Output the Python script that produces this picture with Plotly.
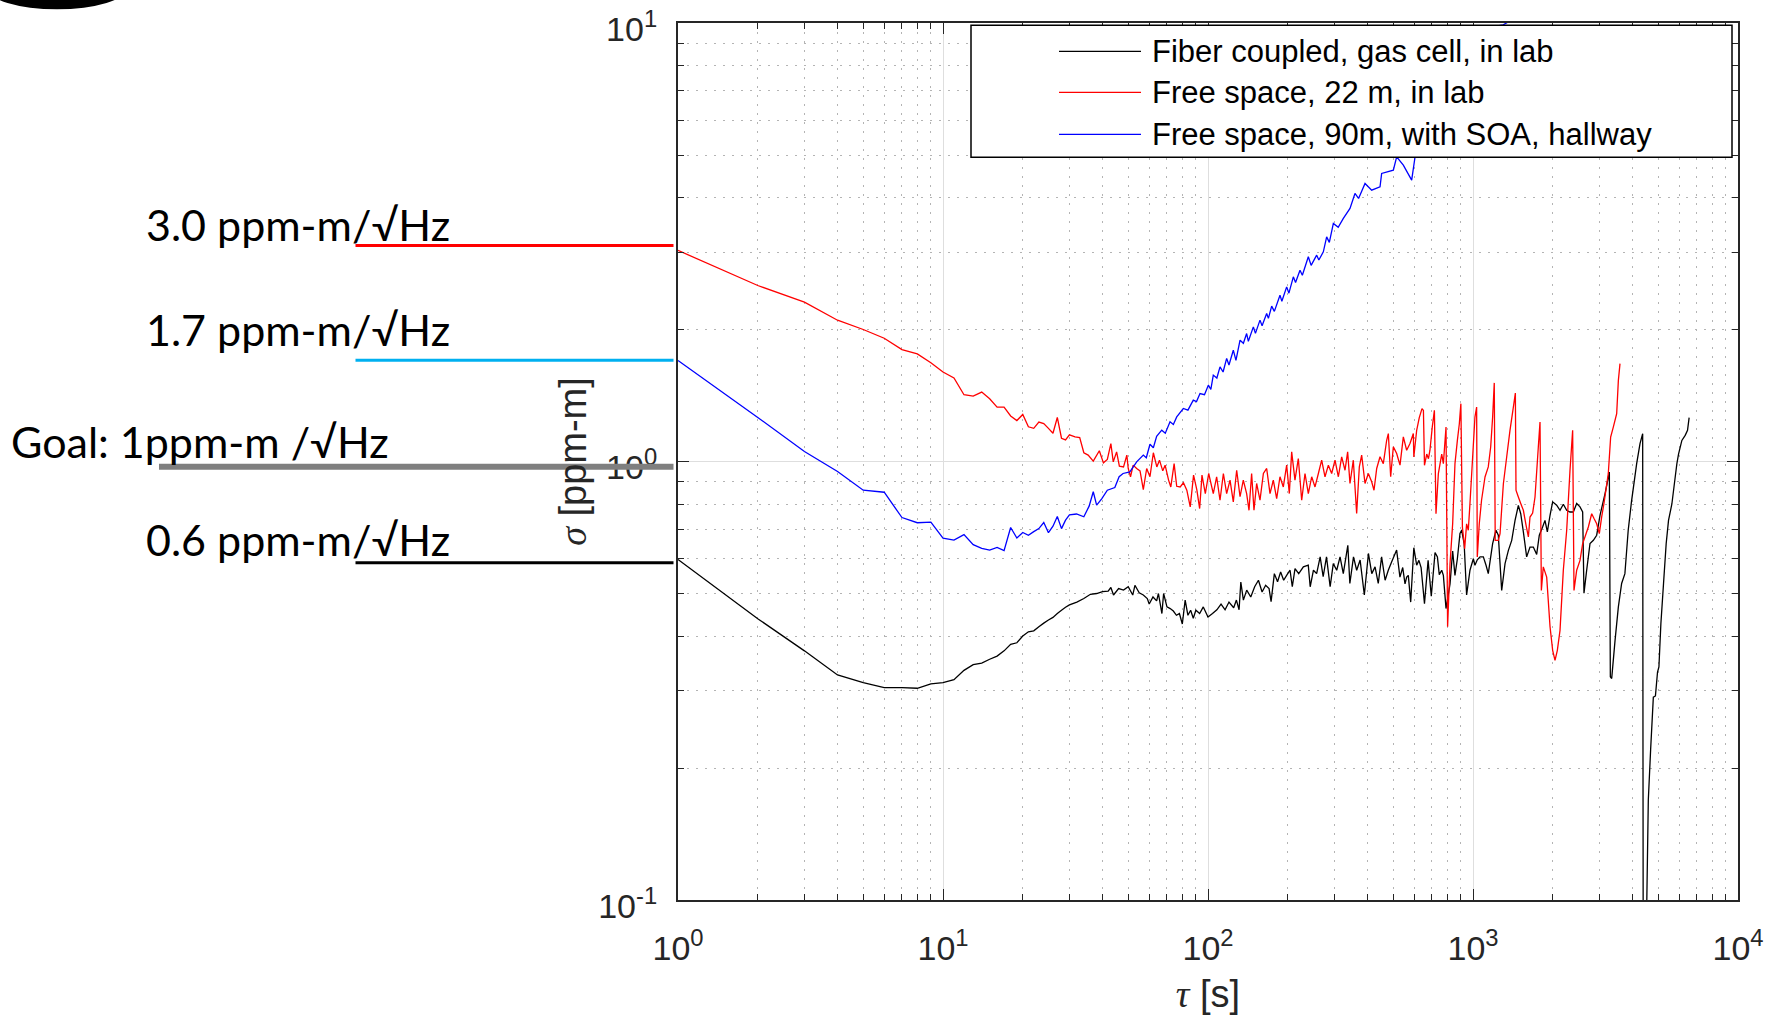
import plotly.graph_objects as go

# ---------------- data ----------------
# Fiber coupled, gas cell, in lab (black)
black_tau_a = list(range(1, 31))
black_sigma_a = [0.598, 0.438, 0.370, 0.326, 0.313, 0.305, 0.305, 0.304, 0.311, 0.313,
                 0.318, 0.334, 0.344, 0.347, 0.354, 0.360, 0.370, 0.383, 0.386, 0.400,
                 0.409, 0.411, 0.420, 0.428, 0.435, 0.441, 0.450, 0.458, 0.465, 0.471]
black_tau_b = [32, 34, 36, 38, 40, 42, 43, 44, 46, 48, 50, 52, 53, 55, 57, 59, 60, 62, 64, 65,
               67, 68, 70, 72, 74, 76, 78, 80, 82, 84, 86, 88, 90, 93, 96, 100, 104, 108, 112, 116,
               120, 125, 128, 131, 133, 136, 140, 145, 150, 155, 160, 165, 170, 173, 178, 183, 188,
               193, 198, 204, 208, 213, 220]
black_sigma_b = [0.478, 0.487, 0.498, 0.500, 0.505, 0.506, 0.516, 0.496, 0.513, 0.509,
                 0.518, 0.496, 0.522, 0.502, 0.496, 0.487, 0.473, 0.491, 0.481, 0.500,
                 0.450, 0.500, 0.466, 0.462, 0.456, 0.446, 0.450, 0.426, 0.483, 0.446,
                 0.458, 0.439, 0.458, 0.450, 0.466, 0.442, 0.450, 0.459, 0.473, 0.459,
                 0.478, 0.464, 0.483, 0.459, 0.531, 0.483, 0.509, 0.491, 0.518, 0.536,
                 0.504, 0.522, 0.513, 0.479, 0.555, 0.532, 0.560, 0.536, 0.550, 0.565,
                 0.518, 0.570, 0.555]
black_tau_c = [229, 239, 243, 250, 257, 265, 272, 280, 289, 297, 306, 315, 324, 337, 343, 354,
               364, 375, 389, 403, 415, 427, 439, 452, 466, 479, 493, 515]
black_sigma_c = [0.575, 0.580, 0.518, 0.565, 0.555, 0.606, 0.546, 0.606, 0.518, 0.585,
                 0.565, 0.606, 0.555, 0.644, 0.527, 0.606, 0.565, 0.596, 0.496, 0.617,
                 0.555, 0.575, 0.527, 0.606, 0.536, 0.565, 0.590, 0.628]
black_tau_d = [530, 543, 554, 562, 570, 582, 598, 613, 625, 637, 656, 677, 696, 719, 734, 746,
               762, 773, 791, 819, 838, 855, 873, 893, 906, 926, 946, 974, 1003, 1017, 1038,
               1063, 1094, 1120, 1142, 1186, 1221, 1246, 1283, 1321, 1360, 1400, 1441, 1483,
               1514, 1549, 1594, 1641, 1689, 1739, 1779, 1831, 1869, 1908, 1953, 1998, 2069,
               2130, 2192, 2257, 2323, 2391, 2462, 2534, 2593, 2623, 2685, 2764, 2846, 2929,
               3015, 3150, 3270, 3298, 3337, 3436, 3536, 3638, 3743, 3852, 3963, 4146, 4268,
               4368, 4395, 4587, 4680, 4792, 4880, 4970, 5030, 5117, 5236, 5358, 5468, 5630,
               5795, 5880, 5965, 6140, 6320, 6450, 6540]
black_sigma_d = [0.545, 0.573, 0.526, 0.545, 0.550, 0.478, 0.636, 0.580, 0.595, 0.573,
                 0.474, 0.595, 0.493, 0.620, 0.606, 0.552, 0.565, 0.550, 0.462, 0.526,
                 0.625, 0.550, 0.600, 0.685, 0.697, 0.650, 0.496, 0.565, 0.600, 0.580,
                 0.597, 0.606, 0.606, 0.580, 0.555, 0.650, 0.697, 0.679, 0.508, 0.585,
                 0.627, 0.661, 0.734, 0.794, 0.760, 0.691, 0.606, 0.638, 0.638, 0.614,
                 0.679, 0.709, 0.734, 0.691, 0.754, 0.809, 0.795, 0.774, 0.799, 0.774,
                 0.767, 0.767, 0.802, 0.788, 0.767, 0.501, 0.565, 0.650, 0.661, 0.679,
                 0.754, 0.845, 0.946, 0.323, 0.320, 0.391, 0.466, 0.527, 0.555, 0.697,
                 0.810, 0.989, 1.098, 1.157, 0.030, 0.169, 0.220, 0.290, 0.292, 0.331,
                 0.340, 0.427, 0.527, 0.650, 0.734, 0.800, 0.922, 0.989, 1.040, 1.117,
                 1.147, 1.178, 1.259]

# Free space, 22 m, in lab (red)
red_tau_a = list(range(1, 31))
red_sigma_a = [3.03, 2.52, 2.31, 2.10, 2.00, 1.91, 1.80, 1.76, 1.68, 1.60,
               1.55, 1.42, 1.41, 1.44, 1.39, 1.33, 1.33, 1.27, 1.24, 1.28,
               1.20, 1.19, 1.23, 1.22, 1.19, 1.16, 1.26, 1.13, 1.12, 1.15]
red_tau_b = [31.5, 32.8, 34.0, 35.3, 36.9, 38.9, 40.3, 41.7, 43.0, 43.9, 45.2, 46.3, 48.0, 49.4,
             50.0, 51.0, 52.2, 53.8, 55.4, 57.0, 58.7, 60.4, 62.2, 64.1, 65.6, 67.5, 68.9, 71.0,
             72.4, 74.5, 76.2, 78.5, 80.8, 83.2, 85.7, 88.2, 90.8, 93.0, 94.9, 97.7, 100.6]
red_sigma_b = [1.138, 1.134, 1.047, 1.034, 1.002, 1.058, 0.993, 1.011, 1.099, 0.998,
               1.052, 0.976, 0.972, 1.034, 0.964, 0.923, 0.981, 0.964, 0.952, 0.863,
               0.964, 0.923, 1.047, 0.972, 1.007, 0.952, 0.981, 0.907, 0.875, 0.989,
               0.878, 0.875, 0.894, 0.860, 0.788, 0.931, 0.860, 0.781, 0.931, 0.845,
               0.939]
red_tau_c = [104.7, 107.8, 111.0, 114.3, 117.6, 121.1, 124.6, 128.3, 132.1, 135.9, 139.9, 142.8,
             146.1, 149.1, 152.6, 157.1, 161.8, 166.5, 171.4, 176.4, 181.6, 186.9, 192.4, 198.1,
             202.7, 206.9, 212.9, 219.2, 225.7, 232.3, 239.1, 246.2, 253.4, 260.9, 268.5, 276.4,
             284.6, 292.9, 301.5, 310.4, 319.5, 328.9, 336.5, 343.4, 353.5, 363.9, 372.4, 380.1,
             391.3, 402.7, 414.6, 423.1, 433.1, 445.8, 458.7, 472.3, 479.2, 489.0, 500.5, 515.2,
             530.3, 545.9, 561.9, 578.4, 595.4]
red_sigma_c = [0.845, 0.923, 0.816, 0.939, 0.845, 0.907, 0.809, 0.955, 0.831, 0.907,
               0.845, 0.774, 0.939, 0.774, 0.891, 0.816, 0.939, 0.964, 0.845, 0.907,
               0.823, 0.923, 0.875, 0.981, 0.845, 1.052, 0.907, 1.016, 0.816, 0.939,
               0.845, 0.923, 0.875, 0.939, 1.007, 0.923, 0.981, 0.939, 1.007, 0.923,
               1.025, 0.955, 1.052, 0.891, 1.007, 0.761, 0.972, 1.034, 0.891, 0.939,
               0.899, 0.860, 0.964, 1.025, 0.989, 1.118, 1.158, 0.923, 1.080, 1.043,
               0.981, 1.138, 1.061, 1.099, 1.158]
red_tau_d = [598, 613, 627, 642, 650, 656, 669, 679, 688, 702, 715, 725, 740, 762, 773, 791, 802,
             819, 838, 855, 873, 888, 900, 912, 930, 946, 960, 974, 997, 1017, 1032, 1038, 1056,
             1077, 1110, 1142, 1166, 1186, 1203, 1213, 1246, 1265, 1302, 1340, 1379, 1420, 1445,
             1453, 1483, 1514, 1549, 1586, 1618, 1641, 1679, 1714, 1764, 1790, 1811, 1842, 1897,
             1953, 1998, 2039, 2081, 2130, 2192, 2257, 2323, 2377, 2405, 2462, 2534, 2593, 2645,
             2724, 2805, 2862, 2929, 2997, 3058, 3120, 3240, 3307, 3386, 3485, 3536, 3587]
red_sigma_d = [1.024, 1.178, 1.259, 1.320, 1.308, 0.980, 1.040, 1.015, 1.061, 1.199,
               1.308, 0.760, 0.938, 1.040, 0.989, 1.199, 0.420, 0.585, 0.721, 0.989,
               1.117, 1.219, 1.355, 0.709, 0.633, 0.721, 0.697, 0.802, 1.024, 1.263,
               1.331, 0.606, 0.721, 0.816, 0.922, 0.972, 1.079, 1.263, 1.511, 0.661,
               0.661, 0.685, 0.890, 1.024, 1.178, 1.331, 1.433, 0.860, 0.830, 0.802,
               0.774, 0.715, 0.673, 0.747, 0.763, 0.830, 1.079, 1.231, 0.508, 0.575,
               0.545, 0.420, 0.371, 0.352, 0.371, 0.412, 0.565, 0.697, 0.955, 1.178,
               0.508, 0.565, 0.595, 0.650, 0.673, 0.709, 0.760, 0.741, 0.721, 0.685,
               0.747, 0.802, 0.938, 1.137, 1.199, 1.285, 1.531, 1.672]

# Free space, 90m, with SOA, hallway (blue)
blue_tau_a = list(range(1, 31))
blue_sigma_a = [1.70, 1.26, 1.054, 0.949, 0.860, 0.851, 0.745, 0.725, 0.727, 0.669,
                0.662, 0.681, 0.646, 0.634, 0.628, 0.637, 0.626, 0.707, 0.669, 0.689,
                0.679, 0.692, 0.703, 0.726, 0.688, 0.712, 0.749, 0.703, 0.735, 0.756]
blue_tau_b = [31.9, 34.0, 35.6, 36.9, 38.0, 39.7, 41.7, 44.5, 46.2, 47.8, 50.7, 53.8, 57.0, 58.5,
              60.4, 62.2, 64.0, 66.9, 69.0, 71.9, 74.0, 76.2, 80.7, 84.0, 88.0, 90.5, 93.3, 97.0,
              100.3, 102.5, 104.7, 108.0, 111.0, 114.0, 117.6, 120.0, 124.6, 127.5, 132.1, 136.0,
              139.9, 142.0, 148.3, 151.0, 157.1, 160.0, 166.5, 169.0, 173.9, 178.0, 186.9, 190.0,
              198.1, 202.0, 209.9, 214.0, 222.4, 227.0, 239.1, 245.0, 257.1, 262.0, 272.4, 280.4,
              287.0, 297.2, 310.0, 324.1, 343.4, 358.6, 370.0, 391.3, 414.6, 445.8, 452.2, 500.5,
              515.2, 545.9, 586.9, 604.0, 700, 850, 1000, 1180, 1300, 1490]
blue_sigma_b = [0.759, 0.748, 0.791, 0.853, 0.795, 0.822, 0.860, 0.872, 0.923, 0.939,
                0.947, 0.998, 1.034, 1.020, 1.095, 1.075, 1.142, 1.179, 1.160, 1.232,
                1.215, 1.264, 1.321, 1.310, 1.380, 1.370, 1.429, 1.420, 1.493, 1.460,
                1.574, 1.550, 1.644, 1.600, 1.718, 1.660, 1.794, 1.700, 1.891, 1.860,
                1.958, 1.880, 2.028, 1.960, 2.101, 2.040, 2.176, 2.120, 2.261, 2.200,
                2.395, 2.320, 2.502, 2.420, 2.637, 2.560, 2.731, 2.660, 2.930, 2.800,
                2.955, 2.880, 3.007, 3.253, 3.160, 3.490, 3.420, 3.583, 3.776, 4.085,
                3.980, 4.305, 4.157, 4.230, 4.538, 4.618, 4.953, 4.741, 4.381, 4.935,
                5.6, 6.6, 7.6, 9.8, 9.9, 10.4]

for a, b in [(black_tau_a, black_sigma_a), (black_tau_b, black_sigma_b), (black_tau_c, black_sigma_c),
             (black_tau_d, black_sigma_d), (red_tau_a, red_sigma_a), (red_tau_b, red_sigma_b),
             (red_tau_c, red_sigma_c), (red_tau_d, red_sigma_d), (blue_tau_a, blue_sigma_a),
             (blue_tau_b, blue_sigma_b)]:
    assert len(a) == len(b), (len(a), len(b))

black_tau = black_tau_a + black_tau_b + black_tau_c + black_tau_d
black_sigma = black_sigma_a + black_sigma_b + black_sigma_c + black_sigma_d
red_tau = red_tau_a + red_tau_b + red_tau_c + red_tau_d
red_sigma = red_sigma_a + red_sigma_b + red_sigma_c + red_sigma_d
blue_tau = blue_tau_a + blue_tau_b
blue_sigma = blue_sigma_a + blue_sigma_b

series_names = ["Fiber coupled, gas cell, in lab", "Free space, 22 m, in lab",
                "Free space, 90m, with SOA, hallway"]
series_colors = ["#000000", "#ff0000", "#0000ff"]

ref_labels = ["3.0 ppm-m/√Hz", "1.7 ppm-m/√Hz", "Goal: 1ppm-m /√Hz", "0.6 ppm-m/√Hz"]
ref_colors = ["#ff0000", "#00b0f0", "#7f7f7f", "#000000"]

x_tickvals = [1, 10, 100, 1000, 10000]
x_ticktext = ["10<sup>0</sup>", "10<sup>1</sup>", "10<sup>2</sup>", "10<sup>3</sup>", "10<sup>4</sup>"]
y_tickvals = [0.1, 1, 10]
y_ticktext = ["10<sup>-1</sup>", "10<sup>0</sup>", "10<sup>1</sup>"]

# ---------------- geometry (pixels of the 1781x1015 page) ----------------
W, H = 1781, 1015
L, R, T, B = 678, 1738, 22.7, 899.7


def px(x):
    return (x - L) / (R - L)


def py(y):
    return (B - y) / (B - T)


fig = go.Figure()
for tau, sig, name, col in [(black_tau, black_sigma, series_names[0], series_colors[0]),
                            (red_tau, red_sigma, series_names[1], series_colors[1]),
                            (blue_tau, blue_sigma, series_names[2], series_colors[2])]:
    fig.add_trace(go.Scatter(x=tau, y=sig, mode="lines", name=name,
                             line=dict(color=col, width=1.3, simplify=False),
                             showlegend=False))

minor_vals = [m * 10 ** e for e in range(-1, 4) for m in range(2, 10)]
AX = "#262626"
SANS = "Liberation Sans, Arial, sans-serif"
tick_font = dict(family=SANS, size=34, color=AX)

common = dict(type="log", showline=True, linecolor=AX, linewidth=2, mirror="allticks",
              ticks="inside", ticklen=11, tickwidth=1.3, tickcolor=AX, automargin=False,
              ticklabeloverflow="allow",
              showgrid=True, gridcolor="#dedede", gridwidth=1, zeroline=False,
              tickfont=tick_font,
              minor=dict(tickvals=minor_vals, ticks="inside", ticklen=6, tickwidth=1,
                         tickcolor=AX, showgrid=True, gridcolor="#b4b4b4",
                         griddash="2px,7px", gridwidth=1))

fig.update_xaxes(range=[0, 4], tickvals=x_tickvals, ticktext=x_ticktext,
                 ticklabelstandoff=17,
                 title=dict(text='<span style="font-family:Liberation Serif"><i>τ</i></span> [s]',
                            font=dict(family=SANS, size=38, color=AX),
                            standoff=20),
                 **common)
fig.update_yaxes(range=[-1, 1], tickvals=y_tickvals, ticktext=y_ticktext,
                 ticklabelstandoff=12, ticklabelshift=6,
                 title=dict(text='<span style="font-family:Liberation Serif"><i>σ</i></span> [ppm-m]',
                            font=dict(family=SANS, size=38, color=AX),
                            standoff=0),
                 **common)

shapes = []
# partial black circle at top-left corner
shapes.append(dict(type="circle", xref="paper", yref="paper", x0=px(-13), x1=px(127),
                   y0=py(9), y1=py(-34), fillcolor="#000000", line=dict(width=0)))
# reference level lines
ref_line_y = [245.3, 360.0, 466.5, 562.5]
ref_line_x0 = [355.5, 355.5, 159.0, 355.5]
ref_line_w = [3, 3, 6, 3]
for yv, x0, col, lw in zip(ref_line_y, ref_line_x0, ref_colors, ref_line_w):
    shapes.append(dict(type="line", xref="paper", yref="paper", x0=px(x0), x1=px(673.5),
                       y0=py(yv), y1=py(yv), line=dict(color=col, width=lw)))
# legend box
shapes.append(dict(type="rect", xref="paper", yref="paper", x0=px(971), x1=px(1732),
                   y0=py(157), y1=py(25), fillcolor="#ffffff", line=dict(color="#000000", width=1.5),
                   layer="above"))
leg_rows = [51.1, 92.0, 134.0]
for yv, col in zip(leg_rows, series_colors):
    shapes.append(dict(type="line", xref="paper", yref="paper", x0=px(1059), x1=px(1141),
                       y0=py(yv), y1=py(yv), line=dict(color=col, width=1.3), layer="above"))

annotations = []
for yv, name in zip(leg_rows, series_names):
    annotations.append(dict(xref="paper", yref="paper", x=px(1150), y=py(yv), text=name,
                            showarrow=False, xanchor="left", yanchor="middle",
                            font=dict(family=SANS, size=31, color="#000000")))
ref_text_y = [224.5, 329.5, 441.5, 539.5]
ref_text_x = [144, 144, 9, 144]
for yv, xv, txt in zip(ref_text_y, ref_text_x, ref_labels):
    annotations.append(dict(xref="paper", yref="paper", x=px(xv), y=py(yv), text=txt,
                            showarrow=False, xanchor="left", yanchor="middle",
                            font=dict(family="Lato, Noto Sans, sans-serif", size=43,
                                      color="#000000")))

fig.update_layout(width=W, height=H, margin=dict(l=L, r=W - R, t=T, b=H - B, pad=0),
                  paper_bgcolor="#ffffff", plot_bgcolor="#ffffff", showlegend=False,
                  shapes=shapes, annotations=annotations)

fig.write_html("out.html")
